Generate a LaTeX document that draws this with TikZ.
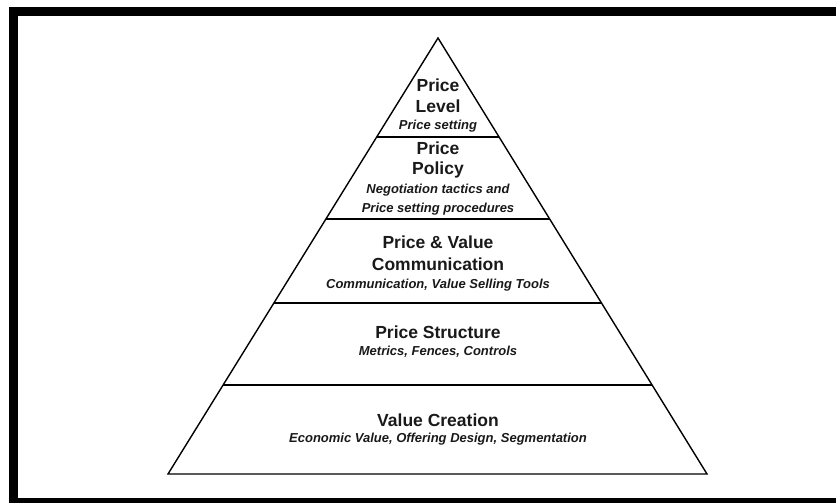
\documentclass[tikz,border=0pt]{standalone}
\usepackage{fontspec}
\setmainfont{Liberation Sans}
\usetikzlibrary{calc}

\begin{document}
\begin{tikzpicture}[x=1pt, y=-1pt,
edge/.style={line width=1.4pt, line join=miter},
ttl/.style={anchor=base, inner sep=0pt, text=black!90, font=\bfseries\fontsize{17.5}{21}\selectfont},
sub/.style={anchor=base, inner sep=0pt, text=black!90, font=\bfseries\itshape\fontsize{13}{16}\selectfont}]
\def\cx{438}
\useasboundingbox (0,0) rectangle (836,503);
\clip (0,0) rectangle (836,503);
% frame
\draw[line width=9pt] (13,11.5) rectangle (900,502.5);
% pyramid
\coordinate (apex) at (\cx,38);
\coordinate (bl) at (168,474);
\coordinate (br) at (707,474);
\draw[edge] (apex) -- (bl) -- (br) -- cycle;
\foreach \f in {0.2271, 0.4151, 0.6078, 0.7959}
  \draw[edge] ($(apex)!\f!(bl)$) -- ($(apex)!\f!(br)$);
% level
\node[ttl] (levA) at (\cx,92) {Price};
\node[ttl] (levB) at (\cx,113) {Level};
\node[sub] (levC) at (\cx,129) {Price setting};
% policy
\node[ttl] (polA) at (\cx,154) {Price};
\node[ttl] (polB) at (\cx,174) {Policy};
\node[sub] (polC) at (\cx,193) {Negotiation tactics and};
\node[sub] (polD) at (\cx,212) {Price setting procedures};
% communication
\node[ttl] (comA) at (\cx,248) {Price \& Value};
\node[ttl] (comB) at (\cx,270) {Communication};
\node[sub] (comC) at (\cx,288) {Communication, Value Selling Tools};
% structure
\node[ttl] (strA) at (\cx,338) {Price Structure};
\node[sub] (strB) at (\cx,355) {Metrics, Fences, Controls};
% creation
\node[ttl] (creA) at (\cx,426) {Value Creation};
\node[sub] (creB) at (\cx,442) {Economic Value, Offering Design, Segmentation};
\end{tikzpicture}
\end{document}
